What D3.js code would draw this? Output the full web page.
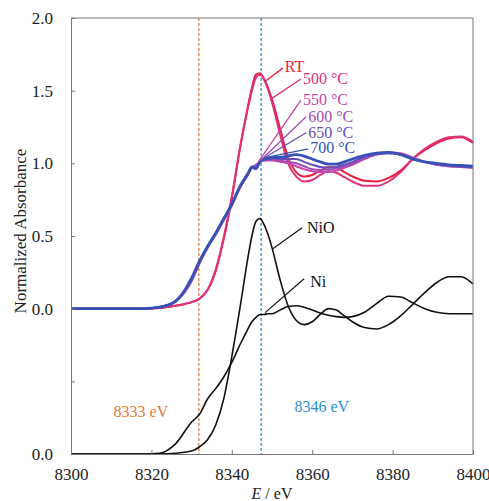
<!DOCTYPE html>
<html>
<head>
<meta charset="utf-8">
<script src="https://cdn.jsdelivr.net/npm/d3@7"></script>
<style>
  body { margin: 0; background: #fff; }
  svg text { font-family: "Liberation Serif", "Times New Roman", Times, "DejaVu Serif", serif !important; }
</style>
</head>
<body>
<div id="chart"></div>
<script>
// Energy grid shared by every spectrum (eV)
const energies = [8300, 8310, 8318, 8322, 8326, 8330, 8332, 8334, 8336, 8338, 8340, 8342, 8344, 8345, 8346, 8347, 8348, 8349, 8350, 8352, 8354, 8356, 8358, 8360, 8362, 8364, 8366, 8368, 8370, 8373, 8376, 8379, 8382, 8385, 8388, 8391, 8394, 8397, 8400];

// Sample spectra (normalized absorbance)
const seriesNames = ["RT", "500 °C", "550 °C", "600 °C", "650 °C", "700 °C"];
const rtValues = [0, 0, 0, 0.005, 0.02, 0.045, 0.07, 0.13, 0.26, 0.48, 0.76, 1.1, 1.39, 1.52, 1.61, 1.62, 1.58, 1.52, 1.44, 1.24, 1.04, 0.94, 0.91, 0.92, 0.95, 0.975, 0.97, 0.94, 0.91, 0.88, 0.875, 0.9, 0.95, 1.03, 1.09, 1.14, 1.17, 1.18, 1.14];
const t500Values = [0, 0, 0, 0.005, 0.02, 0.045, 0.07, 0.13, 0.27, 0.49, 0.77, 1.1, 1.38, 1.5, 1.59, 1.61, 1.58, 1.51, 1.42, 1.2, 1.0, 0.91, 0.875, 0.885, 0.92, 0.945, 0.935, 0.905, 0.875, 0.845, 0.845, 0.875, 0.94, 1.03, 1.1, 1.15, 1.18, 1.185, 1.15];
const t550Values = [0, 0, 0, 0.01, 0.05, 0.19, 0.31, 0.42, 0.51, 0.61, 0.71, 0.83, 0.92, 0.97, 0.99, 1.01, 1.02, 1.02, 1.02, 1.01, 1.0, 0.98, 0.96, 0.945, 0.94, 0.94, 0.95, 0.97, 0.99, 1.03, 1.06, 1.075, 1.07, 1.04, 1.01, 0.99, 0.98, 0.975, 0.97];
const t600Values = [0, 0, 0, 0.01, 0.05, 0.19, 0.32, 0.42, 0.51, 0.61, 0.71, 0.83, 0.92, 0.97, 0.98, 1.01, 1.02, 1.025, 1.03, 1.02, 1.01, 1.0, 0.98, 0.96, 0.955, 0.955, 0.965, 0.98, 1.0, 1.035, 1.06, 1.07, 1.06, 1.035, 1.01, 0.99, 0.98, 0.975, 0.97];
const t650Values = [0, 0, 0, 0.01, 0.055, 0.2, 0.32, 0.43, 0.52, 0.62, 0.72, 0.84, 0.93, 0.97, 0.96, 1.01, 1.025, 1.03, 1.035, 1.03, 1.03, 1.03, 1.01, 0.99, 0.975, 0.97, 0.975, 0.99, 1.01, 1.045, 1.065, 1.07, 1.06, 1.03, 1.01, 0.995, 0.985, 0.98, 0.975];
const t700Values = [0, 0, 0, 0.01, 0.05, 0.21, 0.33, 0.43, 0.52, 0.62, 0.72, 0.84, 0.93, 0.975, 0.965, 1.01, 1.03, 1.035, 1.04, 1.04, 1.05, 1.06, 1.05, 1.03, 1.01, 0.995, 0.995, 1.01, 1.03, 1.055, 1.07, 1.075, 1.06, 1.03, 1.01, 1.0, 0.99, 0.985, 0.98];

// Reference spectra (drawn shifted down by one unit)
const referenceNames = ["NiO", "Ni"];
const nioValues = [0, 0, 0, 0, 0.005, 0.02, 0.05, 0.1, 0.2, 0.38, 0.67, 1.0, 1.35, 1.5, 1.6, 1.62, 1.58, 1.51, 1.42, 1.2, 1.02, 0.92, 0.89, 0.91, 0.96, 1.0, 0.99, 0.95, 0.91, 0.87, 0.86, 0.89, 0.95, 1.03, 1.11, 1.18, 1.22, 1.22, 1.17];
const niValues = [0, 0, 0, 0.005, 0.07, 0.22, 0.275, 0.38, 0.45, 0.53, 0.63, 0.75, 0.86, 0.91, 0.94, 0.96, 0.96, 0.965, 0.965, 0.99, 1.015, 1.02, 1.01, 0.99, 0.97, 0.955, 0.945, 0.94, 0.945, 0.975, 1.035, 1.085, 1.08, 1.04, 1.0, 0.975, 0.965, 0.965, 0.965];
const referenceOffset = -1;

// Edge markers
const markerEnergies = [8331.8, 8347.3];
const markerLabels = ["8333 eV", "8346 eV"];

// Axis ticks
const xTicks = [8300, 8320, 8340, 8360, 8380, 8400];
const yTicks = [-1, -0.5, 0, 0.5, 1, 1.5, 2];
const yTickLabels = ["0.0", "", "0.0", "0.5", "1.0", "1.5", "2.0"];

// ---- styling / layout ----
const width = 489, height = 501;
const plot = { left: 71, right: 473, top: 18, bottom: 454 };
const seriesColors = ["#e8213f", "#e0307a", "#c446a8", "#a04cb8", "#6a4cb4", "#3552b8"];
const markerColors = ["#e0783c", "#2c8fd4"];
const axisColor = "#777";
const serif = "'Liberation Serif', 'Times New Roman', Times, 'DejaVu Serif', serif";

const svg = d3.select("#chart").append("svg")
  .attr("width", width).attr("height", height)
  .attr("font-family", serif);

const x = d3.scaleLinear().domain([8300, 8400]).range([plot.left, plot.right]);
const y = d3.scaleLinear().domain([-1, 2]).range([plot.bottom, plot.top]);

const line = d3.line()
  .x((d) => x(d[0]))
  .y((d) => y(d[1]))
  .curve(d3.curveMonotoneX);

// Edge marker lines
markerEnergies.forEach((e, i) => {
  svg.append("line")
    .attr("x1", x(e)).attr("x2", x(e))
    .attr("y1", plot.top).attr("y2", plot.bottom)
    .attr("stroke", markerColors[i])
    .attr("stroke-width", 1.3)
    .attr("stroke-dasharray", "3,2");
});

// Reference spectra
[nioValues, niValues].forEach((vals) => {
  svg.append("path")
    .datum(energies.map((e, i) => [e, vals[i] + referenceOffset]))
    .attr("d", line)
    .attr("fill", "none")
    .attr("stroke", "#111")
    .attr("stroke-width", 1.6);
});

// Sample spectra
const sampleSeries = [rtValues, t500Values, t550Values, t600Values, t650Values, t700Values];
sampleSeries.forEach((vals, k) => {
  svg.append("path")
    .datum(energies.map((e, i) => [e, vals[i]]))
    .attr("d", line)
    .attr("fill", "none")
    .attr("stroke", seriesColors[k])
    .attr("stroke-width", k === 5 ? 2.8 : 2);
});

// Frame (top and right)
svg.append("line").attr("x1", plot.left).attr("x2", plot.right)
  .attr("y1", plot.top).attr("y2", plot.top).attr("stroke", axisColor);
svg.append("line").attr("x1", plot.right).attr("x2", plot.right)
  .attr("y1", plot.top).attr("y2", plot.bottom).attr("stroke", axisColor);

// Axes
const xAxis = svg.append("g")
  .attr("transform", `translate(0, ${plot.bottom})`)
  .call(d3.axisBottom(x).tickValues(xTicks).tickSizeInner(-4).tickSizeOuter(0)
    .tickPadding(14).tickFormat(d3.format("d")));
const yAxis = svg.append("g")
  .attr("transform", `translate(${plot.left}, 0)`)
  .call(d3.axisLeft(y).tickValues(yTicks).tickSizeInner(-4).tickSizeOuter(0)
    .tickPadding(18).tickFormat((d, i) => yTickLabels[i]));

[xAxis, yAxis].forEach((g) => {
  g.attr("font-family", serif).attr("font-size", 17);
  g.select(".domain").attr("stroke", axisColor);
  g.selectAll(".tick line").attr("stroke", axisColor);
  g.selectAll(".tick text").attr("fill", "#222");
});

// Axis titles
svg.append("text")
  .attr("transform", `translate(26, 231) rotate(-90)`)
  .attr("text-anchor", "middle")
  .attr("font-size", 17)
  .attr("fill", "#222")
  .text("Normalized Absorbance");

const xTitle = svg.append("text")
  .attr("x", 272).attr("y", 499)
  .attr("text-anchor", "middle")
  .attr("font-size", 16)
  .attr("fill", "#222");
xTitle.append("tspan").attr("font-style", "italic").text("E");
xTitle.append("tspan").text(" / eV");

// Marker labels
const markerLabelPos = [[8317.4, -0.742], [8362.4, -0.708]];
markerLabels.forEach((t, i) => {
  svg.append("text")
    .attr("x", x(markerLabelPos[i][0])).attr("y", y(markerLabelPos[i][1]))
    .attr("text-anchor", "middle")
    .attr("font-size", 16)
    .attr("fill", markerColors[i])
    .text(t);
});

// Series labels with leader lines: [text E, text A, leader start E, A, leader end E, A]
const seriesLabelPos = [
  [8353.2, 1.63, 8352.7, 1.655, 8348.3, 1.565],
  [8357.7, 1.545, 8357.2, 1.58, 8349.6, 1.44],
  [8357.7, 1.40, 8357.2, 1.435, 8346.6, 1.01],
  [8359.0, 1.285, 8358.5, 1.32, 8347.1, 1.02],
  [8359.0, 1.175, 8358.5, 1.21, 8347.6, 1.03],
  [8359.5, 1.07, 8359.0, 1.10, 8348.3, 1.04]
];
seriesNames.forEach((name, k) => {
  const p = seriesLabelPos[k];
  svg.append("line")
    .attr("x1", x(p[2])).attr("y1", y(p[3]))
    .attr("x2", x(p[4])).attr("y2", y(p[5]))
    .attr("stroke", seriesColors[k]).attr("stroke-width", 1.3);
  svg.append("text")
    .attr("x", x(p[0])).attr("y", y(p[1]))
    .attr("font-size", 16)
    .attr("fill", seriesColors[k])
    .text(name);
});

// Reference labels
const referenceLabelPos = [
  [8358.7, 0.522, 8357.5, 0.557, 8350.2, 0.412],
  [8359.5, 0.151, 8358.0, 0.206, 8348.3, -0.027]
];
referenceNames.forEach((name, k) => {
  const p = referenceLabelPos[k];
  svg.append("line")
    .attr("x1", x(p[2])).attr("y1", y(p[3]))
    .attr("x2", x(p[4])).attr("y2", y(p[5]))
    .attr("stroke", "#111").attr("stroke-width", 1.2);
  svg.append("text")
    .attr("x", x(p[0])).attr("y", y(p[1]))
    .attr("font-size", 16)
    .attr("fill", "#111")
    .text(name);
});
</script>
</body>
</html>
